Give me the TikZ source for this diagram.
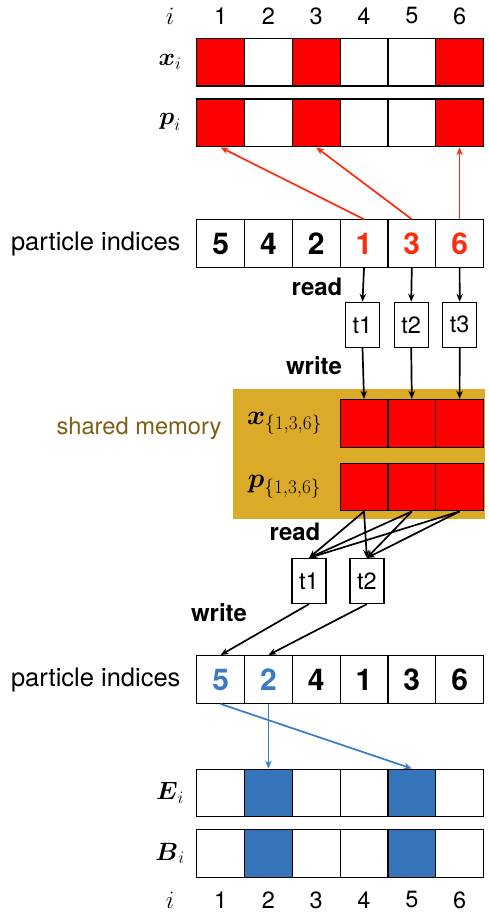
\RequirePackage{fix-cm}
\documentclass[tikz,border=0pt]{standalone}
\usepackage{amsmath}
\usepackage{fontspec}
\setsansfont{TeX Gyre Heros}
\usetikzlibrary{arrows.meta}

\definecolor{cellred}{RGB}{255,0,0}
\definecolor{arrred}{RGB}{250,45,15}
\definecolor{cellblue}{RGB}{53,116,185}
\definecolor{arrblue}{RGB}{58,123,196}
\definecolor{smgold}{RGB}{218,170,40}
\definecolor{smtext}{RGB}{125,94,20}

\tikzset{
  cell/.style={draw, line width=1.2pt, minimum width=47.8pt, minimum height=47.7pt,
               inner sep=0pt, fill=white},
  num/.style={font=\sffamily\bfseries\fontsize{30}{36}\selectfont},
  idx/.style={font=\sffamily\fontsize{23.5}{28}\selectfont},
  thread/.style={draw, line width=1.2pt, fill=white, minimum width=34pt,
                 minimum height=45pt, inner sep=0pt,
                 font=\sffamily\fontsize{23.5}{28}\selectfont},
  rowlbl/.style={font=\sffamily\fontsize{25.5}{30}\selectfont, anchor=east},
  op/.style={font=\sffamily\bfseries\fontsize{24}{28}\selectfont},
  mlbl/.style={font=\fontsize{25}{30}\selectfont},
  smlbl/.style={font=\fontsize{27.5}{32}\selectfont},
  arr/.style={line width=1.7pt, -{Stealth[length=8pt,width=6.5pt]}},
}

\begin{document}
\begin{tikzpicture}[x=1pt,y=-1pt]
\useasboundingbox (0,0) rectangle (489,913);

% shared memory background
\fill[smgold] (233.3,389) rectangle (485,519.3);
\node[font=\sffamily\fontsize{23.7}{28}\selectfont, text=smtext] (smlabel) at (139,428) {shared memory};

% index header
\node[mlbl] (itop) at (170,16) {$i$};
\foreach \k in {1,...,6}
  \node[idx] (ntop\k) at ({196.7+(\k-0.5)*47.8},16) {\k};

% x_i and p_i arrays
\node[mlbl] (xlbl) at (170,62) {$\boldsymbol{x}_i$};
\node[mlbl] (plbl) at (170,122) {$\boldsymbol{p}_i$};
\foreach \k/\c in {1/cellred,2/white,3/cellred,4/white,5/white,6/cellred} {
  \node[cell, fill=\c] (x\k) at ({196.7+(\k-0.5)*47.8},62.2) {};
  \node[cell, fill=\c] (p\k) at ({196.7+(\k-0.5)*47.8},122.9) {};
}

% first particle index array
\node[rowlbl] (pilbl1) at (184,243.7) {particle indices};
\foreach \k/\v/\c in {1/5/black,2/4/black,3/2/black,4/1/arrred,5/3/arrred,6/6/arrred}
  \node[cell, num, text=\c] (a\k) at ({196.7+(\k-0.5)*47.8},243.7) {\v};

% gather arrows
\draw[arr, arrred] (a4.north) -- (p1.south);
\draw[arr, arrred] (a5.north) -- (p3.south);
\draw[arr, arrred] (a6.north) -- (p6.south);

% first set of threads
\node[op] (read1) at (317,287) {read};
\node[thread] (t1) at (362.5,324.8) {t1};
\node[thread] (t2) at (411.2,324.8) {t2};
\node[thread] (t3) at (459.7,324.8) {t3};
\draw[arr] (a4.south) -- (t1.north);
\draw[arr] (a5.south) -- (t2.north);
\draw[arr] (a6.south) -- (t3.north);
\node[op] (write1) at (314,366) {write};

% shared memory arrays
\node[smlbl] (sxlbl) at (284.5,423) {$\boldsymbol{x}_{\{1,3,6\}}$};
\node[smlbl] (splbl) at (284.5,487) {$\boldsymbol{p}_{\{1,3,6\}}$};
\foreach \k in {1,2,3} {
  \node[cell, fill=cellred] (sx\k) at ({340.1+(\k-0.5)*47.8},423.3) {};
  \node[cell, fill=cellred] (sp\k) at ({340.1+(\k-0.5)*47.8},487) {};
}
\draw[arr] (t1.south) -- (sx1.north);
\draw[arr] (t2.south) -- (sx2.north);
\draw[arr] (t3.south) -- (sx3.north);

% second set of threads
\node[op] (read2) at (295,532) {read};
\node[thread] (u1) at (309,581) {t1};
\node[thread] (u2) at (366.9,581) {t2};
\foreach \k in {1,2,3} {
  \draw[arr] (sp\k.south) -- (u1.north);
  \draw[arr] (sp\k.south) -- (u2.north);
}
\node[op] (write2) at (219,613) {write};

% second particle index array
\node[rowlbl] (pilbl2) at (184,679.5) {particle indices};
\foreach \k/\v/\c in {1/5/arrblue,2/2/arrblue,3/4/black,4/1/black,5/3/black,6/6/black}
  \node[cell, num, text=\c] (b\k) at ({196.7+(\k-0.5)*47.8},679.5) {\v};
\draw[arr] (u1.south) -- (b1.north);
\draw[arr] (u2.south) -- (b2.north);

% E_i and B_i arrays
\node[mlbl] (elbl) at (170,793) {$\boldsymbol{E}_i$};
\node[mlbl] (blbl) at (170,853.5) {$\boldsymbol{B}_i$};
\foreach \k/\c in {1/white,2/cellblue,3/white,4/white,5/cellblue,6/white} {
  \node[cell, fill=\c] (E\k) at ({196.7+(\k-0.5)*47.8},793) {};
  \node[cell, fill=\c] (B\k) at ({196.7+(\k-0.5)*47.8},853.7) {};
}

% scatter arrows
\draw[arr, arrblue] (b1.south) -- (E5.north);
\draw[arr, arrblue] (b2.south) -- (E2.north);

% index footer
\node[mlbl] (ibot) at (170,900) {$i$};
\foreach \k in {1,...,6}
  \node[idx] (nbot\k) at ({196.7+(\k-0.5)*47.8},900) {\k};
\end{tikzpicture}
\end{document}
